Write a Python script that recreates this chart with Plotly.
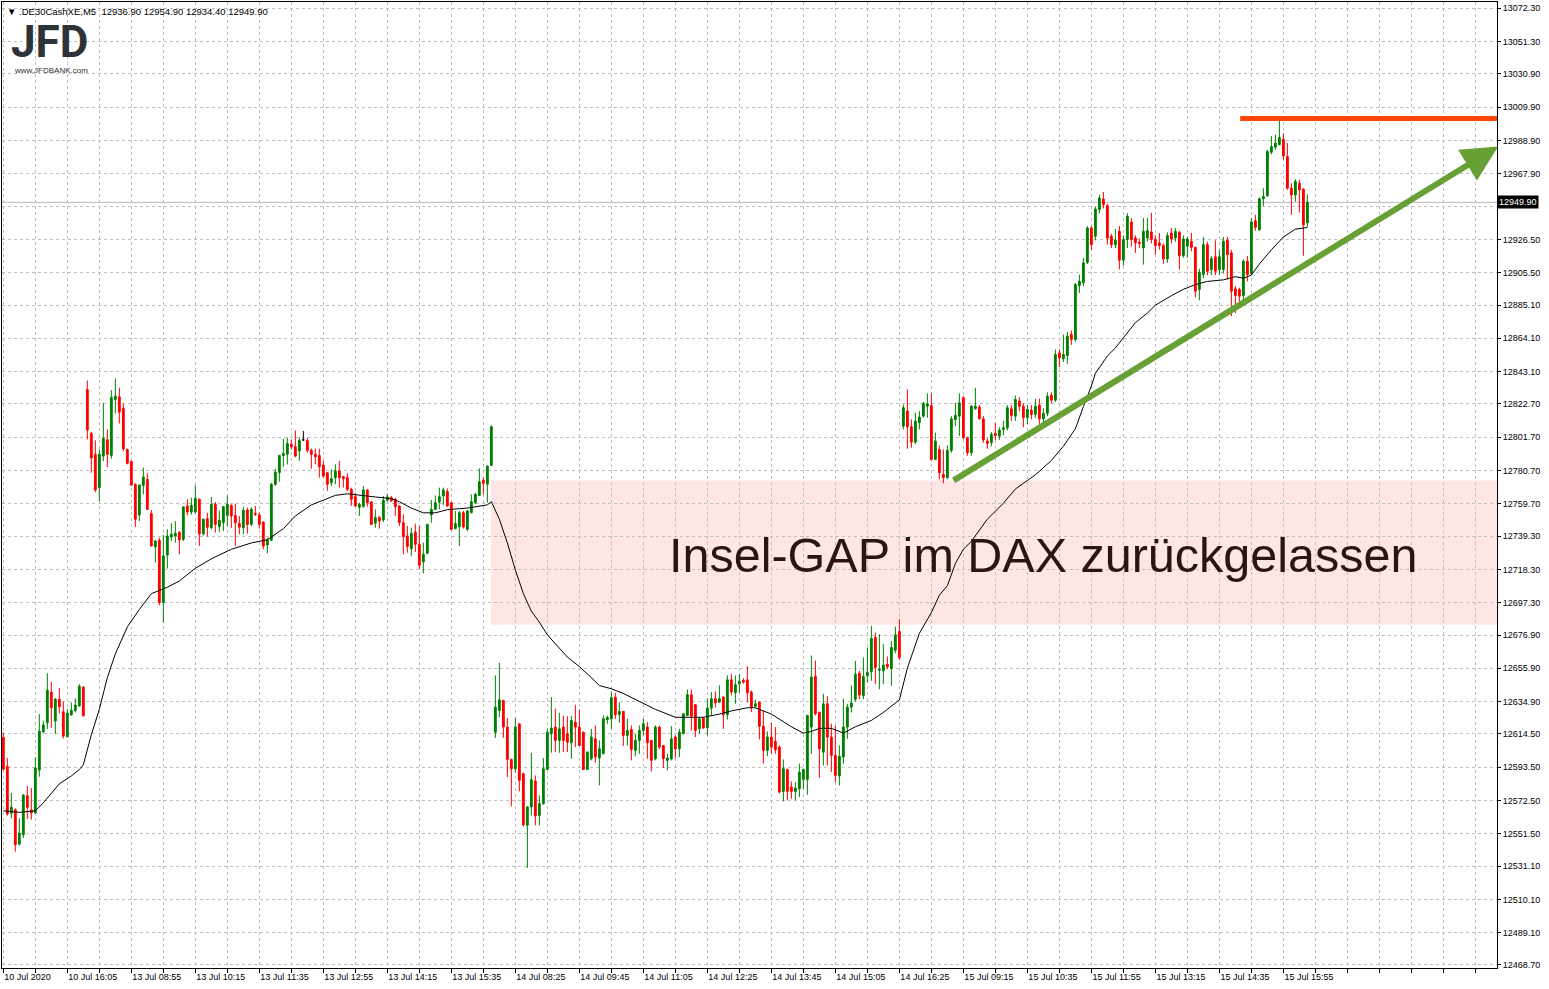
import plotly.graph_objects as go

# ---------------- data: 5-minute candles (open, high, low, close) ----------------
jul10 = [
    (12612.3, 12615.4, 12591.3, 12592.3), (12594.0, 12599.3, 12562.9, 12564.0),
    (12564.4, 12577.2, 12561.2, 12568.2), (12566.7, 12567.5, 12540.2, 12544.6),
    (12545.0, 12561.2, 12544.0, 12552.0), (12550.9, 12576.5, 12548.8, 12575.9),
    (12575.5, 12581.6, 12560.8, 12568.2), (12566.5, 12580.3, 12560.4, 12564.6),
    (12564.6, 12599.7, 12564.0, 12593.0), (12591.7, 12627.0, 12587.5, 12616.3),
    (12615.9, 12622.8, 12614.8, 12620.1), (12621.5, 12652.8, 12617.5, 12642.1),
    (12640.9, 12647.4, 12618.4, 12631.0), (12622.6, 12637.1, 12614.4, 12636.4),
    (12636.4, 12643.4, 12627.4, 12631.6), (12628.5, 12634.8, 12611.6, 12613.1),
    (12612.7, 12630.0, 12612.3, 12627.6), (12626.6, 12634.3, 12625.9, 12629.5),
    (12629.1, 12636.9, 12628.0, 12632.7), (12632.2, 12645.9, 12631.6, 12644.6),
    (12644.0, 12644.8, 12625.5, 12625.9),
]
jul13 = [
    (12831.8, 12837.5, 12800.3, 12806.2), (12804.1, 12805.0, 12779.3, 12788.6),
    (12790.9, 12799.7, 12767.1, 12768.4), (12769.9, 12794.0, 12761.2, 12790.9),
    (12789.8, 12823.4, 12786.7, 12801.0), (12800.1, 12806.6, 12782.9, 12790.9),
    (12790.2, 12831.4, 12788.1, 12826.8), (12825.5, 12838.8, 12816.7, 12827.6),
    (12827.2, 12832.9, 12810.4, 12817.5), (12819.9, 12823.0, 12793.0, 12794.4),
    (12793.9, 12794.5, 12784.6, 12785.2), (12786.5, 12787.0, 12770.9, 12771.5),
    (12772.0, 12772.5, 12745.1, 12749.9), (12752.6, 12772.0, 12748.8, 12771.5),
    (12771.3, 12782.5, 12765.7, 12776.6), (12775.1, 12778.9, 12755.8, 12756.2),
    (12753.5, 12755.8, 12732.8, 12733.1), (12732.5, 12737.0, 12722.6, 12736.2),
    (12736.7, 12738.3, 12695.7, 12697.4), (12697.4, 12740.0, 12684.8, 12726.8),
    (12727.4, 12743.6, 12718.8, 12739.4), (12738.8, 12747.4, 12736.2, 12740.4),
    (12739.4, 12748.8, 12735.2, 12741.1), (12741.7, 12742.5, 12727.8, 12736.9),
    (12737.3, 12758.3, 12736.2, 12757.7), (12758.3, 12762.5, 12752.4, 12754.5),
    (12754.5, 12763.5, 12752.8, 12758.7), (12754.5, 12771.3, 12753.7, 12763.1),
    (12762.5, 12763.0, 12733.1, 12740.7), (12740.7, 12750.5, 12739.8, 12749.9),
    (12750.3, 12754.1, 12739.0, 12744.9), (12744.6, 12764.0, 12743.6, 12759.4),
    (12759.4, 12760.8, 12741.5, 12746.7), (12745.3, 12755.4, 12741.9, 12749.3),
    (12747.8, 12758.3, 12742.5, 12757.9), (12752.4, 12765.0, 12745.7, 12759.4),
    (12758.7, 12759.4, 12744.6, 12752.0), (12752.4, 12759.8, 12733.1, 12747.8),
    (12747.4, 12752.0, 12740.5, 12744.9), (12744.6, 12757.9, 12740.5, 12755.6),
    (12755.8, 12757.3, 12740.9, 12746.7), (12746.7, 12757.5, 12745.7, 12756.2),
    (12753.7, 12758.3, 12752.0, 12753.0), (12752.6, 12754.1, 12744.0, 12746.7),
    (12748.2, 12748.5, 12731.0, 12733.1), (12733.7, 12738.3, 12728.5, 12736.9),
    (12736.7, 12773.0, 12736.2, 12772.0), (12772.0, 12781.8, 12771.0, 12779.7),
    (12779.3, 12790.5, 12773.6, 12790.2), (12790.2, 12800.7, 12783.1, 12791.5),
    (12790.9, 12801.4, 12784.6, 12797.8), (12797.2, 12800.3, 12794.0, 12795.7),
    (12795.7, 12806.0, 12789.0, 12789.8), (12793.0, 12801.4, 12786.7, 12799.7),
    (12800.0, 12805.6, 12799.5, 12800.0), (12799.7, 12801.4, 12791.9, 12793.4),
    (12793.4, 12794.5, 12781.8, 12790.9), (12790.9, 12794.5, 12784.6, 12789.4),
    (12790.2, 12794.5, 12776.2, 12783.1), (12784.1, 12786.7, 12776.2, 12777.2),
    (12779.3, 12779.5, 12767.8, 12772.0), (12773.0, 12781.4, 12770.9, 12775.5),
    (12776.2, 12784.6, 12772.0, 12780.4), (12780.4, 12786.7, 12769.9, 12776.2),
    (12776.8, 12777.2, 12769.9, 12775.5), (12776.2, 12778.9, 12767.8, 12768.8),
    (12768.8, 12769.9, 12758.3, 12762.5), (12764.2, 12766.7, 12757.9, 12758.3),
    (12757.5, 12760.4, 12752.0, 12759.3), (12757.9, 12770.9, 12757.3, 12768.4),
    (12768.4, 12768.8, 12757.9, 12760.4), (12760.8, 12761.5, 12746.5, 12746.7),
    (12747.4, 12756.2, 12744.6, 12751.0), (12751.0, 12752.0, 12744.0, 12748.8),
    (12749.5, 12764.6, 12748.2, 12761.9), (12762.0, 12766.0, 12761.0, 12764.0),
    (12763.6, 12764.6, 12761.0, 12761.5), (12762.5, 12763.6, 12752.0, 12757.9),
    (12758.3, 12758.7, 12745.7, 12747.8), (12747.8, 12753.0, 12727.8, 12739.0),
    (12739.4, 12745.7, 12728.9, 12732.7), (12731.4, 12744.6, 12726.6, 12741.1),
    (12741.9, 12747.2, 12729.3, 12734.1), (12734.1, 12745.7, 12718.4, 12720.9),
    (12723.0, 12735.2, 12715.8, 12727.8), (12728.5, 12747.0, 12727.8, 12746.7),
    (12752.6, 12762.1, 12747.8, 12756.2), (12756.2, 12765.0, 12755.6, 12760.4),
    (12760.8, 12769.9, 12756.2, 12764.2), (12764.6, 12769.9, 12758.9, 12768.4),
    (12767.4, 12769.4, 12758.0, 12758.3), (12760.4, 12760.8, 12743.0, 12743.6),
    (12744.0, 12755.2, 12743.6, 12747.2), (12745.3, 12755.2, 12733.1, 12754.1),
    (12754.1, 12755.2, 12744.0, 12745.1), (12743.6, 12755.8, 12742.5, 12755.2),
    (12754.1, 12765.7, 12753.7, 12761.0), (12760.4, 12766.7, 12759.4, 12765.7),
    (12765.0, 12782.0, 12764.6, 12773.6), (12774.5, 12776.2, 12765.7, 12772.6),
    (12772.0, 12783.9, 12760.4, 12783.5), (12783.9, 12809.1, 12783.5, 12808.3),
]
jul14 = [
    (12615.6, 12651.4, 12611.9, 12631.4), (12629.3, 12659.3, 12625.1, 12636.0),
    (12635.6, 12636.0, 12611.9, 12618.8), (12618.8, 12624.5, 12587.3, 12598.4),
    (12598.4, 12598.8, 12568.8, 12592.5), (12592.5, 12624.5, 12590.0, 12618.8),
    (12620.9, 12621.0, 12578.2, 12585.2), (12589.4, 12590.0, 12556.2, 12557.2),
    (12556.8, 12569.0, 12529.9, 12568.4), (12568.4, 12602.6, 12563.1, 12585.6),
    (12584.8, 12588.3, 12556.8, 12562.7), (12563.1, 12575.7, 12556.8, 12570.5),
    (12570.5, 12599.3, 12569.9, 12592.5), (12592.1, 12617.7, 12591.8, 12615.6),
    (12614.6, 12637.7, 12602.6, 12618.2), (12618.8, 12630.4, 12603.0, 12610.4),
    (12610.4, 12627.8, 12602.6, 12617.7), (12618.8, 12626.1, 12603.0, 12610.4),
    (12614.6, 12625.7, 12603.0, 12609.3), (12608.9, 12625.7, 12598.8, 12623.0),
    (12621.9, 12632.9, 12606.2, 12618.8), (12618.8, 12629.9, 12607.0, 12607.2),
    (12615.6, 12616.0, 12592.0, 12592.1), (12592.1, 12603.5, 12591.8, 12603.0),
    (12598.8, 12617.7, 12597.8, 12612.5), (12611.4, 12619.8, 12596.3, 12599.9),
    (12599.3, 12610.4, 12582.0, 12605.1), (12602.0, 12626.1, 12601.6, 12624.0),
    (12623.6, 12626.1, 12620.9, 12624.8), (12624.0, 12641.3, 12617.7, 12637.3),
    (12637.7, 12640.4, 12624.0, 12626.6), (12626.8, 12634.5, 12621.5, 12628.7),
    (12628.7, 12629.0, 12606.8, 12613.5), (12613.5, 12624.0, 12607.2, 12616.7),
    (12617.3, 12619.8, 12597.8, 12604.7), (12604.1, 12614.6, 12600.5, 12610.4),
    (12610.4, 12619.8, 12602.0, 12616.7), (12616.7, 12624.0, 12613.5, 12620.9),
    (12618.8, 12622.0, 12598.8, 12608.9), (12610.4, 12610.6, 12590.8, 12597.8),
    (12598.8, 12619.8, 12597.8, 12618.8), (12618.8, 12619.8, 12604.7, 12606.2),
    (12607.2, 12607.5, 12592.9, 12598.8), (12597.8, 12602.0, 12591.5, 12599.3),
    (12598.8, 12619.4, 12597.8, 12611.4), (12612.5, 12613.5, 12599.3, 12605.1),
    (12605.1, 12617.7, 12599.9, 12615.6), (12614.6, 12627.5, 12614.4, 12627.2),
    (12626.1, 12642.5, 12626.0, 12639.2), (12639.2, 12642.5, 12616.7, 12625.7),
    (12632.9, 12633.3, 12612.5, 12616.7), (12617.7, 12625.1, 12614.6, 12624.0),
    (12624.5, 12625.1, 12617.7, 12618.2), (12618.4, 12636.7, 12613.5, 12630.8),
    (12630.8, 12640.9, 12626.1, 12636.7), (12636.7, 12641.3, 12631.2, 12634.1),
    (12634.5, 12645.1, 12634.1, 12636.7), (12637.7, 12638.3, 12617.7, 12626.6),
    (12626.6, 12651.4, 12623.6, 12648.6), (12648.6, 12652.4, 12638.8, 12640.9),
    (12640.5, 12651.4, 12633.5, 12645.5), (12646.1, 12652.4, 12640.5, 12647.6),
    (12648.2, 12649.7, 12646.1, 12647.2), (12648.6, 12657.2, 12634.5, 12640.5),
    (12640.9, 12641.9, 12628.2, 12631.4), (12632.0, 12636.2, 12631.0, 12633.5),
    (12634.5, 12635.0, 12611.0, 12619.4), (12619.4, 12629.3, 12595.7, 12604.1),
    (12604.1, 12616.1, 12600.5, 12612.5), (12612.5, 12621.5, 12602.0, 12606.2),
    (12609.8, 12618.8, 12602.0, 12604.5), (12606.2, 12607.2, 12577.0, 12577.8),
    (12578.2, 12598.4, 12571.9, 12592.5), (12591.9, 12592.5, 12572.6, 12578.2),
    (12581.0, 12584.6, 12573.6, 12578.2), (12578.2, 12584.1, 12572.6, 12580.3),
    (12579.9, 12595.7, 12574.7, 12590.4), (12585.8, 12592.5, 12579.9, 12592.1),
    (12585.8, 12626.5, 12576.1, 12626.1), (12618.8, 12664.0, 12602.0, 12650.3),
    (12650.9, 12660.8, 12626.1, 12627.2), (12628.2, 12628.5, 12586.6, 12605.1),
    (12603.0, 12639.8, 12594.6, 12633.5), (12633.5, 12638.3, 12594.6, 12612.5),
    (12612.5, 12620.9, 12590.4, 12601.0), (12601.0, 12619.8, 12584.1, 12588.3),
    (12587.9, 12607.2, 12582.0, 12600.3), (12599.9, 12636.7, 12595.7, 12618.8),
    (12618.8, 12633.5, 12611.4, 12631.4), (12631.4, 12645.0, 12628.0, 12634.0),
    (12636.4, 12660.6, 12635.0, 12652.2), (12652.8, 12654.3, 12636.4, 12639.0),
    (12638.5, 12662.7, 12636.4, 12650.7), (12651.2, 12669.0, 12647.0, 12653.3),
    (12653.7, 12682.7, 12648.0, 12674.7), (12675.3, 12678.5, 12645.9, 12656.4),
    (12654.7, 12677.4, 12642.7, 12655.4), (12654.3, 12671.1, 12645.9, 12657.9),
    (12658.5, 12663.3, 12655.3, 12656.8), (12655.8, 12673.2, 12644.8, 12669.0),
    (12667.3, 12682.2, 12665.4, 12677.0), (12679.1, 12686.9, 12661.2, 12662.7),
]
jul15 = [
    (12808.7, 12822.4, 12806.6, 12820.3), (12818.2, 12831.8, 12794.4, 12808.3),
    (12808.3, 12812.9, 12795.1, 12798.6), (12798.6, 12817.1, 12797.2, 12811.9),
    (12810.8, 12818.2, 12806.6, 12814.4), (12815.0, 12823.9, 12814.0, 12823.0),
    (12821.3, 12829.3, 12814.0, 12822.6), (12821.7, 12829.3, 12787.0, 12787.7),
    (12787.7, 12804.5, 12787.3, 12799.3), (12794.0, 12796.5, 12775.1, 12779.3),
    (12778.3, 12794.0, 12772.6, 12776.2), (12776.2, 12796.5, 12775.1, 12793.4),
    (12793.4, 12815.0, 12791.9, 12813.3), (12812.9, 12823.4, 12808.7, 12815.4),
    (12815.0, 12829.3, 12802.4, 12823.4), (12826.6, 12827.6, 12800.3, 12801.4),
    (12801.4, 12802.0, 12790.0, 12791.9), (12791.9, 12822.0, 12790.0, 12821.3),
    (12819.6, 12832.9, 12819.2, 12821.3), (12820.7, 12822.0, 12812.9, 12813.3),
    (12813.3, 12815.0, 12798.2, 12799.9), (12799.3, 12801.0, 12794.4, 12797.8),
    (12798.2, 12805.0, 12796.0, 12803.5), (12804.1, 12810.8, 12800.0, 12802.8),
    (12802.4, 12808.0, 12800.0, 12806.2), (12806.6, 12812.0, 12803.0, 12807.7),
    (12807.7, 12822.0, 12806.0, 12820.3), (12819.6, 12822.0, 12812.0, 12815.4),
    (12815.0, 12828.0, 12812.0, 12825.5), (12824.5, 12827.0, 12818.0, 12821.3),
    (12821.3, 12823.0, 12808.0, 12814.0), (12814.0, 12822.0, 12810.0, 12819.2),
    (12818.8, 12822.0, 12813.0, 12816.1), (12816.1, 12826.0, 12814.0, 12821.3),
    (12822.0, 12826.0, 12808.0, 12813.3), (12813.3, 12820.0, 12810.0, 12816.7),
    (12816.7, 12830.0, 12815.0, 12827.6), (12828.1, 12830.0, 12823.0, 12825.1),
    (12825.1, 12857.0, 12824.0, 12853.9), (12854.9, 12857.0, 12846.0, 12851.8),
    (12851.2, 12866.5, 12849.1, 12853.9), (12853.3, 12868.0, 12848.0, 12865.5),
    (12866.5, 12869.0, 12860.0, 12863.4), (12863.4, 12899.0, 12862.0, 12898.0),
    (12897.4, 12904.3, 12892.8, 12900.1), (12899.1, 12914.8, 12897.0, 12911.7),
    (12912.1, 12934.8, 12911.0, 12933.7), (12933.7, 12935.0, 12920.0, 12923.2),
    (12928.5, 12947.0, 12926.0, 12945.7), (12945.3, 12954.7, 12943.0, 12952.6),
    (12952.0, 12956.5, 12946.0, 12948.4), (12947.8, 12949.0, 12923.2, 12927.4),
    (12928.5, 12930.0, 12921.0, 12923.2), (12923.2, 12933.1, 12921.0, 12926.0),
    (12931.6, 12935.0, 12907.5, 12913.4), (12913.4, 12929.0, 12910.0, 12926.4),
    (12926.4, 12943.0, 12921.1, 12941.1), (12937.5, 12940.0, 12922.0, 12926.4),
    (12927.4, 12929.0, 12918.0, 12924.3), (12924.7, 12927.0, 12921.0, 12923.9),
    (12921.1, 12940.0, 12910.6, 12931.6), (12927.4, 12940.0, 12925.0, 12932.0),
    (12931.2, 12943.2, 12924.0, 12926.4), (12926.4, 12929.0, 12917.0, 12922.6),
    (12924.3, 12930.5, 12920.1, 12922.6), (12922.6, 12924.0, 12911.0, 12914.2),
    (12914.2, 12931.0, 12911.7, 12928.9), (12930.6, 12933.7, 12924.0, 12926.8),
    (12927.4, 12933.7, 12925.0, 12931.6), (12931.0, 12932.0, 12907.5, 12916.3),
    (12916.3, 12929.0, 12915.0, 12926.8), (12922.2, 12928.0, 12915.0, 12926.8),
    (12925.3, 12930.6, 12919.0, 12921.5), (12921.5, 12922.0, 12890.0, 12893.8),
    (12894.9, 12908.0, 12888.1, 12905.8), (12904.3, 12928.0, 12902.0, 12923.2),
    (12923.2, 12925.0, 12904.0, 12906.4), (12907.5, 12916.0, 12904.0, 12914.4),
    (12915.5, 12926.0, 12904.0, 12906.4), (12907.5, 12920.0, 12904.0, 12915.5),
    (12907.5, 12928.0, 12905.0, 12925.3), (12926.0, 12928.0, 12901.2, 12916.9),
    (12918.0, 12920.0, 12878.1, 12893.8), (12895.3, 12897.0, 12880.0, 12891.1),
    (12894.9, 12896.0, 12884.0, 12890.7), (12891.1, 12914.0, 12888.0, 12912.7),
    (12912.7, 12916.0, 12900.0, 12904.3), (12905.0, 12940.0, 12904.0, 12937.5),
    (12938.3, 12942.0, 12932.0, 12934.1), (12932.6, 12953.0, 12932.0, 12952.1),
    (12952.1, 12958.8, 12947.7, 12953.6), (12954.0, 12983.0, 12953.5, 12982.0),
    (12981.5, 12991.8, 12980.3, 12985.1), (12984.7, 12992.5, 12983.0, 12987.2),
    (12986.2, 13001.5, 12986.0, 12990.8), (12989.7, 12993.5, 12976.7, 12979.2),
    (12978.8, 12987.2, 12957.8, 12958.8), (12958.8, 12962.0, 12942.0, 12954.6),
    (12954.6, 12964.5, 12950.4, 12963.1), (12962.0, 12964.1, 12943.5, 12957.8),
    (12958.2, 12958.8, 12916.2, 12935.7), (12936.9, 12954.9, 12934.4, 12949.9),
]

# moving average (bar index, value)
ma_idx = [0, 4, 8, 10, 12, 14, 17, 19, 20, 21, 22, 24, 26, 28, 31, 34, 37, 41, 44, 48,
          52, 57, 62, 66, 70, 73, 77, 80, 83, 86, 89, 93, 97, 99, 102, 105, 108, 111, 116, 119,
          121, 122, 124, 126, 128, 130, 132, 134, 136, 141, 144, 147, 149, 152, 155, 159, 163, 168, 170, 175,
          179, 182, 186, 188, 192, 197, 200, 202, 204, 207, 210, 213, 217, 220, 224, 225, 226, 229, 232, 234,
          236, 238, 240, 242, 246, 250, 253, 258, 262, 265, 268, 270, 272, 273, 276, 278, 281, 283, 286, 288,
          292, 295, 298, 301, 305, 308, 310, 312, 314, 317, 320, 323, 326]
ma_val = [12566, 12565, 12566, 12571, 12577, 12583, 12588, 12592, 12595, 12604, 12614, 12630, 12650, 12665, 12682, 12693, 12703, 12707, 12711, 12719,
          12725, 12731, 12735, 12737, 12744, 12752, 12759, 12762, 12765, 12766, 12765, 12764, 12763, 12761, 12757, 12754, 12754, 12756, 12757, 12758,
          12759, 12761, 12750, 12735, 12718, 12703, 12692, 12685, 12677, 12663, 12657, 12650, 12645, 12643, 12640, 12635, 12630, 12625, 12625, 12625,
          12627, 12629, 12631, 12631, 12627, 12619, 12615, 12616, 12618, 12618, 12615, 12619, 12623, 12628, 12636, 12646, 12656, 12678, 12691, 12702,
          12708, 12722, 12731, 12736, 12750, 12760, 12769, 12778, 12787, 12796, 12807, 12821, 12834, 12842, 12853, 12858, 12868, 12874, 12880, 12885,
          12891, 12895, 12898, 12900, 12901, 12903, 12902, 12904, 12911, 12920, 12928, 12933, 12934]

time_labels = ["10 Jul 2020", "10 Jul 16:05", "13 Jul 08:55", "13 Jul 10:15", "13 Jul 11:35",
               "13 Jul 12:55", "13 Jul 14:15", "13 Jul 15:35", "14 Jul 08:25", "14 Jul 09:45",
               "14 Jul 11:05", "14 Jul 12:25", "14 Jul 13:45", "14 Jul 15:05", "14 Jul 16:25",
               "15 Jul 09:15", "15 Jul 10:35", "15 Jul 11:55", "15 Jul 13:15", "15 Jul 14:35",
               "15 Jul 15:55"]
price_ticks = [13072.30, 13051.30, 13030.90, 13009.90, 12988.90, 12967.90, 12947.10, 12926.50,
               12905.50, 12885.10, 12864.10, 12843.10, 12822.70, 12801.70, 12780.70, 12759.70,
               12739.30, 12718.30, 12697.30, 12676.90, 12655.90, 12634.90, 12614.50, 12593.50,
               12572.50, 12551.50, 12531.10, 12510.10, 12489.10, 12468.70]

symbol = ".DE30CashXE,M5"
last_price = 12949.90
gap_zone = (12683.3, 12774.4)       # island gap box (low, high)
resistance = 13002.8                # red horizontal level
trend_start = (237.2, 12773.9)      # green arrow start (bar, price)
trend_end = (373.7, 12985.2)        # green arrow tip (bar, price)
label_step = 16
grid_step = 8

# ---------------- figure ----------------
rows = jul10 + jul13 + jul14 + jul15
idx = list(range(len(rows)))
o = [r[0] for r in rows]
h = [r[1] for r in rows]
l = [r[2] for r in rows]
c = [r[3] for r in rows]
norm = [i for i in idx if o[i] != c[i]]
doji = [i for i in idx if o[i] == c[i]]

fig = go.Figure()
fig.add_trace(go.Candlestick(
    x=norm, open=[o[i] for i in norm], high=[h[i] for i in norm],
    low=[l[i] for i in norm], close=[c[i] for i in norm],
    increasing=dict(line=dict(color="#008000", width=1), fillcolor="#008000"),
    decreasing=dict(line=dict(color="#ff0000", width=1), fillcolor="#ff0000"),
    whiskerwidth=0, showlegend=False, hoverinfo="skip"))
if doji:
    fig.add_trace(go.Candlestick(
        x=doji, open=[o[i] for i in doji], high=[h[i] for i in doji],
        low=[l[i] for i in doji], close=[c[i] for i in doji],
        increasing=dict(line=dict(color="#000000", width=1), fillcolor="#000000"),
        decreasing=dict(line=dict(color="#000000", width=1), fillcolor="#000000"),
        whiskerwidth=0, showlegend=False, hoverinfo="skip"))
fig.add_trace(go.Scatter(x=ma_idx, y=ma_val, mode="lines",
                         line=dict(color="#000000", width=1), showlegend=False, hoverinfo="skip"))

n_last = len(rows) - 1
x_lo = -0.33
x_hi = 373.4
tickvals = list(range(0, int(x_hi) + 1, grid_step))
ticktext = [time_labels[v // label_step] if v % label_step == 0 and v // label_step < len(time_labels) else ""
            for v in tickvals]
# the tick hidden under the last-price box is left blank
ytext = ["" if abs(v - last_price) < 5 else f"{v:.2f}" for v in price_ticks]

font_axis = dict(family="Liberation Sans, Arial, sans-serif", size=9, color="#000000")

fig.update_layout(
    width=1549, height=989,
    margin=dict(l=2, r=52, t=2, b=21),
    paper_bgcolor="#ffffff", plot_bgcolor="#ffffff",
    boxgap=0.35,
    xaxis=dict(range=[x_lo, x_hi], tickvals=tickvals, ticktext=ticktext,
               showgrid=True, gridcolor="#c0c0c0", griddash="3px,3px", gridwidth=1,
               zeroline=False, showline=True, linecolor="#000000", linewidth=1, mirror=True,
               ticks="outside", ticklen=4, tickcolor="#000000",
               ticklabelposition="outside right",
               tickfont=font_axis, rangeslider=dict(visible=False), fixedrange=True),
    yaxis=dict(range=[12466.8, 13076.3], side="right", tickvals=price_ticks,
               ticktext=ytext,
               showgrid=True, gridcolor="#c0c0c0", griddash="3px,3px", gridwidth=1,
               zeroline=False, showline=True, linecolor="#000000", linewidth=1, mirror=True,
               ticks="outside", ticklen=3, tickcolor="#000000",
               tickfont=font_axis, fixedrange=True),
    shapes=[
        dict(type="rect", xref="x", yref="y", x0=121.9, x1=x_hi, y0=gap_zone[0], y1=gap_zone[1],
             fillcolor="#fde6e3", line=dict(width=0), layer="below"),
        dict(type="line", xref="paper", yref="y", x0=0, x1=1, y0=last_price, y1=last_price,
             line=dict(color="#b8b8b8", width=1), layer="below"),
        dict(type="line", xref="x", yref="y", x0=309.2, x1=x_hi + 1, y0=resistance, y1=resistance,
             line=dict(color="#ff4500", width=5)),
    ],
    annotations=[
        dict(xref="x", yref="y", axref="x", ayref="y", x=trend_end[0], y=trend_end[1],
             ax=trend_start[0], ay=trend_start[1], text="", showarrow=True,
             arrowhead=2, arrowsize=1.2, arrowwidth=6, arrowcolor="#67a035"),
        dict(xref="x", yref="y", x=259.9, y=12727.5, text="Insel-GAP im DAX zurückgelassen",
             showarrow=False, font=dict(family="Liberation Sans, Arial, sans-serif", size=48.5,
                                        color="#2a1515"), xanchor="center", yanchor="middle"),
        dict(xref="paper", yref="y", x=1, y=last_price, xanchor="left", yanchor="middle",
             text=f"{last_price:.2f}", showarrow=False, bgcolor="#000000", borderpad=1,
             font=dict(family="Liberation Sans, Arial, sans-serif", size=9, color="#ffffff")),
        dict(xref="paper", yref="paper", x=0, y=1, xanchor="left", yanchor="top", xshift=3, yshift=-2,
             text=f"▼ {symbol}  {o[n_last]:.2f} {h[n_last]:.2f} {l[n_last]:.2f} {c[n_last]:.2f}",
             showarrow=False, font=dict(family="Liberation Sans, Arial, sans-serif", size=9.5, color="#000000")),
        dict(xref="paper", yref="paper", x=0, y=1, xanchor="left", yanchor="top", xshift=7, yshift=-12,
             text="<b>JFD</b>", showarrow=False,
             font=dict(family="Roboto, Liberation Sans, sans-serif", size=44, color="#2e3338")),
        dict(xref="paper", yref="paper", x=0, y=1, xanchor="left", yanchor="top", xshift=10, yshift=-62,
             text="www.JFDBANK.com", showarrow=False,
             font=dict(family="Liberation Sans, Arial, sans-serif", size=8, color="#2e3338")),
    ],
)

fig.write_html("out.html", config={"displayModeBar": False},
               post_script="document.body.style.margin='0';document.body.style.overflow='hidden';")
